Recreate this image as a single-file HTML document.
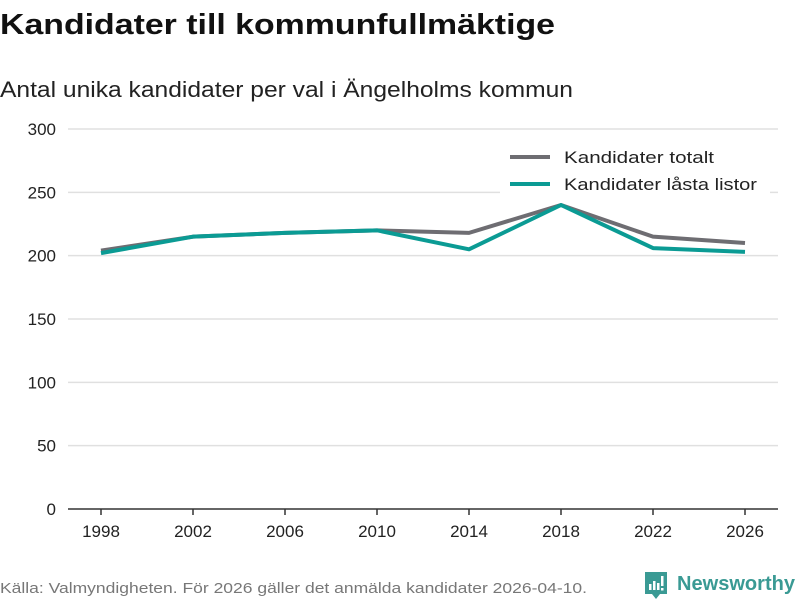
<!DOCTYPE html>
<html><head><meta charset="utf-8"><style>
body{margin:0;background:#fff;width:800px;height:600px;overflow:hidden;font-family:"Liberation Sans",sans-serif}
svg text{font-family:"Liberation Sans",sans-serif}
</style></head><body>
<svg id="chart" width="800" height="600">
<text x="0" y="34" font-size="29" font-weight="bold" fill="#111" textLength="555" lengthAdjust="spacingAndGlyphs">Kandidater till kommunfullmäktige</text>
<text x="0" y="97" font-size="22" fill="#222" textLength="573" lengthAdjust="spacingAndGlyphs">Antal unika kandidater per val i Ängelholms kommun</text>
<g id="grid"></g>
<g id="yticks"></g>
<g id="xticks"></g>
<g id="series"></g>
<rect x="500" y="142" width="270" height="58" fill="#fff"/>
<g>
<line x1="510" y1="157" x2="550" y2="157" stroke="#6e6d72" stroke-width="4"/>
<text x="564" y="163" font-size="17" fill="#222" textLength="150" lengthAdjust="spacingAndGlyphs">Kandidater totalt</text>
</g>
<g>
<line x1="510" y1="184" x2="550" y2="184" stroke="#0b9b94" stroke-width="4"/>
<text x="564" y="190" font-size="17" fill="#222" textLength="193" lengthAdjust="spacingAndGlyphs">Kandidater låsta listor</text>
</g>
<text x="0" y="593" font-size="15" fill="#777" textLength="587" lengthAdjust="spacingAndGlyphs">Källa: Valmyndigheten. För 2026 gäller det anmälda kandidater 2026-04-10.</text>
<g>
<path d="M645 572 h22 v22 h-7 l-4 5 l-4 -5 h-7 z" fill="#3a9a94"/>
<rect x="649" y="584" width="2.5" height="6" fill="#fff"/><rect x="653" y="581" width="2.5" height="9" fill="#fff"/><rect x="657" y="583" width="2.5" height="7" fill="#fff"/><rect x="661" y="576" width="2.5" height="10" fill="#fff"/><rect x="661" y="588" width="2.5" height="2.5" fill="#fff"/>
<text x="677" y="590" font-size="20" font-weight="bold" fill="#3a9a94" textLength="118" lengthAdjust="spacingAndGlyphs">Newsworthy</text>
</g>
</svg>
<script>
const years=[1998,2002,2006,2010,2014,2018,2022,2026];
const totalt=[204,215,218,220,218,240,215,210];
const lasta=[202,215,218,220,205,240,206,203];
const yTicks=[0,50,100,150,200,250,300];
const NS="http://www.w3.org/2000/svg";
const x=v=>101+(v-1998)*(745-101)/28;
const y=v=>509-v*380/300;
function mk(t,a,p){const e=document.createElementNS(NS,t);for(const k in a)e.setAttribute(k,a[k]);p.appendChild(e);return e;}
const g=document.getElementById('grid'),yt=document.getElementById('yticks'),xt=document.getElementById('xticks'),s=document.getElementById('series');
yTicks.forEach(v=>{
 const l=mk('line',{x1:68,x2:778,y1:y(v),y2:y(v),stroke:v===0?'#333':'#e0e0e0','stroke-width':v===0?1.5:1.5},g);
 
 
 const t=mk('text',{x:56,y:y(v)+6,'font-size':17,fill:'#222','text-anchor':'end'},yt);
 t.textContent=v;
 
 
});
years.forEach(v=>{
 mk('line',{x1:x(v),x2:x(v),y1:509,y2:515,stroke:'#333','stroke-width':1.5},xt);
 const t=mk('text',{x:x(v),y:537,'font-size':17,fill:'#222','text-anchor':'middle'},xt);
 t.textContent=v;
 
 
});
function line(d,c,n){
 const p=mk('polyline',{points:d.map((v,i)=>x(years[i])+','+y(v)).join(' '),fill:'none',stroke:c,'stroke-width':4,'stroke-linejoin':'round'},s);
 
 
}
line(totalt,'#6e6d72','line-kandidater-totalt');
line(lasta,'#0b9b94','line-kandidater-lasta-listor');
</script>
</body></html>
